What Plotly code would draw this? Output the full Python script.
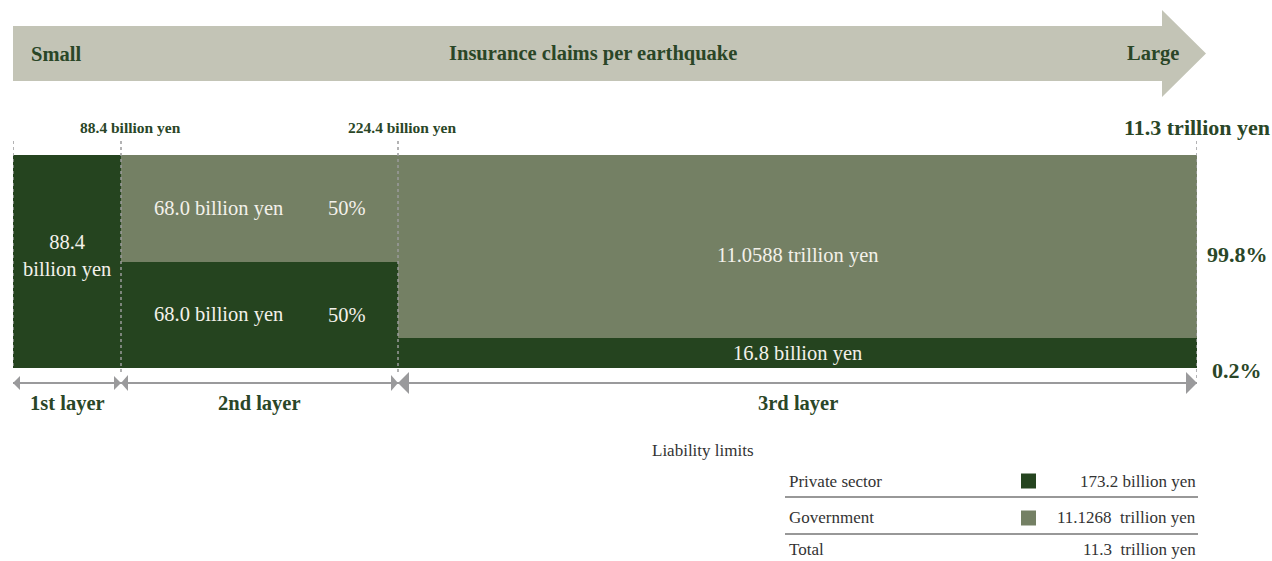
import plotly.graph_objects as go

# ---- data ----------------------------------------------------------------
layers = ["1st layer", "2nd layer", "3rd layer"]
private_amount_label = ["88.4<br>billion yen", "68.0 billion yen", "16.8 billion yen"]
government_amount_label = ["", "68.0 billion yen", "11.0588 trillion yen"]
private_share = [100.0, 50.0, 0.2]        # % of each layer borne by private insurers
government_share = [0.0, 50.0, 99.8]      # % of each layer borne by the government
cumulative_labels = ["88.4 billion yen", "224.4 billion yen", "11.3 trillion yen"]
limit_rows = ["Private sector", "Government", "Total"]
limit_values = ["173.2 billion yen", "11.1268  trillion yen", "11.3  trillion yen"]

# ---- layout constants ------------------------------------------------------
W, H = 1272, 561
LAYER_WIDTHS = [108, 277, 799]     # schematic (not to scale) widths of the layers
MIN_BAND = 14.0                    # keep very thin tranches visible
DARK = "#25441f"
MID = "#748064"
PALE = "#c3c4b6"
TEXT_GREEN = "#2a4627"
WHITE_TXT = "#f3f1ea"
GREY = "#9a9a9c"
INK = "#333333"
FONT = "Liberation Serif"
HEAD_SIZE = 20.5
BODY_SIZE = 20.5
SMALL_BOLD = 15.5
TABLE_SIZE = 17

PLOT_L, PLOT_R, PLOT_T, PLOT_B = 13, 1197, 155, 368


def px(x):
    return x / W


def py(y):
    return 1 - y / H


lefts = []
acc = 0
for w in LAYER_WIDTHS:
    lefts.append(acc)
    acc += w
total_w = acc
centers = [l + w / 2 for l, w in zip(lefts, LAYER_WIDTHS)]
bounds = lefts + [total_w]

priv_disp = [max(s, MIN_BAND) if s < 100 else s for s in private_share]
gov_disp = [100 - p if g > 0 else 0 for p, g in zip(priv_disp, government_share)]

fig = go.Figure()
fig.add_trace(go.Bar(
    x=centers, y=priv_disp, base=[0] * 3, width=LAYER_WIDTHS,
    marker=dict(color=DARK, line=dict(width=0)), name="Private sector",
    hoverinfo="skip", showlegend=False,
))
fig.add_trace(go.Bar(
    x=centers, y=gov_disp, base=priv_disp, width=LAYER_WIDTHS,
    marker=dict(color=MID, line=dict(width=0)), name="Government",
    hoverinfo="skip", showlegend=False,
))

shapes = []
annotations = []


def ann(x, y, text, size, color, xanchor="center", xref="paper", yref="paper", bold=False):
    annotations.append(dict(
        x=x, y=y, xref=xref, yref=yref, text=f"<b>{text}</b>" if bold else text,
        showarrow=False, xanchor=xanchor, yanchor="middle",
        font=dict(family=FONT, size=size, color=color),
    ))


# big direction arrow along the top
arrow_path = (
    f"M {px(13)},{py(26)} L {px(1162)},{py(26)} L {px(1162)},{py(10)} "
    f"L {px(1206)},{py(53.5)} L {px(1162)},{py(97)} L {px(1162)},{py(81)} "
    f"L {px(13)},{py(81)} Z"
)
shapes.append(dict(type="path", path=arrow_path, xref="paper", yref="paper",
                   fillcolor=PALE, line=dict(width=0), layer="below"))
ann(px(29), py(54), "Small", HEAD_SIZE, TEXT_GREEN, xanchor="left", bold=True)
ann(px(593), py(54), "Insurance claims per earthquake", HEAD_SIZE, TEXT_GREEN, bold=True)
ann(px(1181), py(54), "Large", HEAD_SIZE, TEXT_GREEN, xanchor="right", bold=True)

# dashed boundaries between layers
dash_bottoms = [368, 375, 375, 380]
for b, yb in zip(bounds, dash_bottoms):
    shapes.append(dict(type="line", xref="x", yref="paper", x0=b, x1=b,
                       y0=py(141), y1=py(yb),
                       line=dict(color=GREY, width=1.5, dash="3px,3px"), layer="above"))

# cumulative claim thresholds above the bars
ann(px(130), py(128), cumulative_labels[0], SMALL_BOLD, TEXT_GREEN, bold=True)
ann(px(402), py(128), cumulative_labels[1], SMALL_BOLD, TEXT_GREEN, bold=True)
ann(px(1272), py(128), cumulative_labels[2], 22, TEXT_GREEN, xanchor="right", bold=True)

# labels inside the bars
ann(centers[0], 52.5, private_amount_label[0], BODY_SIZE, WHITE_TXT, xref="x", yref="y")
for share_val, amt, yc in [(government_share[1], government_amount_label[1], 75),
                           (private_share[1], private_amount_label[1], 25)]:
    ann(lefts[1] + 97, yc, amt, BODY_SIZE, WHITE_TXT, xref="x", yref="y")
    ann(lefts[1] + 226, yc, f"{share_val:.0f}%", BODY_SIZE, WHITE_TXT, xref="x", yref="y")
ann(centers[2], 53, government_amount_label[2], BODY_SIZE, WHITE_TXT, xref="x", yref="y")
ann(centers[2], priv_disp[2] / 2, private_amount_label[2], BODY_SIZE, WHITE_TXT,
    xref="x", yref="y")

# shares of the 3rd layer on the right
ann(px(1237), py(254), f"{government_share[2]}%", 22, TEXT_GREEN, bold=True)
ann(px(1237), py(370), f"{private_share[2]}%", 22, TEXT_GREEN, bold=True)

# layer span arrows
ARROW_Y = 383
shapes.append(dict(type="line", xref="paper", yref="paper", x0=px(PLOT_L), x1=px(PLOT_R),
                   y0=py(ARROW_Y), y1=py(ARROW_Y), line=dict(color=GREY, width=2)))


def head(x_base, direction, length, half):
    tip = x_base + direction * length
    path = (f"M {px(x_base)},{py(ARROW_Y - half)} L {px(tip)},{py(ARROW_Y)} "
            f"L {px(x_base)},{py(ARROW_Y + half)} Z")
    shapes.append(dict(type="path", path=path, xref="paper", yref="paper",
                       fillcolor=GREY, line=dict(width=0)))


def to_px(xv):
    return PLOT_L + xv * (PLOT_R - PLOT_L) / total_w


sizes = [(7, 7), (7, 8), (11, 11)]
for i, (ln, hf) in enumerate(sizes):
    x0 = to_px(bounds[i])
    x1 = to_px(bounds[i + 1])
    head(x0 + ln, -1, ln, hf)
    head(x1 - ln, 1, ln, hf)
    ann(px((x0 + x1) / 2), py(403), layers[i], HEAD_SIZE, TEXT_GREEN, bold=True)

# liability limits table
ann(px(650), py(450), "Liability limits", TABLE_SIZE, INK, xanchor="left")
row_y = [481, 517, 549]
for name, val, yv in zip(limit_rows, limit_values, row_y):
    ann(px(787), py(yv), name, TABLE_SIZE, INK, xanchor="left")
    ann(px(1198), py(yv), val, TABLE_SIZE, INK, xanchor="right")
for yl in [497, 534]:
    shapes.append(dict(type="line", xref="paper", yref="paper", x0=px(785), x1=px(1198),
                       y0=py(yl), y1=py(yl), line=dict(color=INK, width=1.2)))
for col, yv in zip([DARK, MID], [481, 518]):
    shapes.append(dict(type="rect", xref="paper", yref="paper", x0=px(1021), x1=px(1036),
                       y0=py(yv - 7.5), y1=py(yv + 7.5), fillcolor=col, line=dict(width=0)))

fig.update_layout(
    width=W, height=H, margin=dict(l=0, r=0, t=0, b=0),
    paper_bgcolor="white", plot_bgcolor="white",
    barmode="overlay", bargap=0,
    xaxis=dict(domain=[px(PLOT_L), px(PLOT_R)], range=[0, total_w], visible=False,
               fixedrange=True),
    yaxis=dict(domain=[py(PLOT_B), py(PLOT_T)], range=[0, 100], visible=False,
               fixedrange=True),
    shapes=shapes, annotations=annotations, showlegend=False,
)

fig.write_html("out.html")
